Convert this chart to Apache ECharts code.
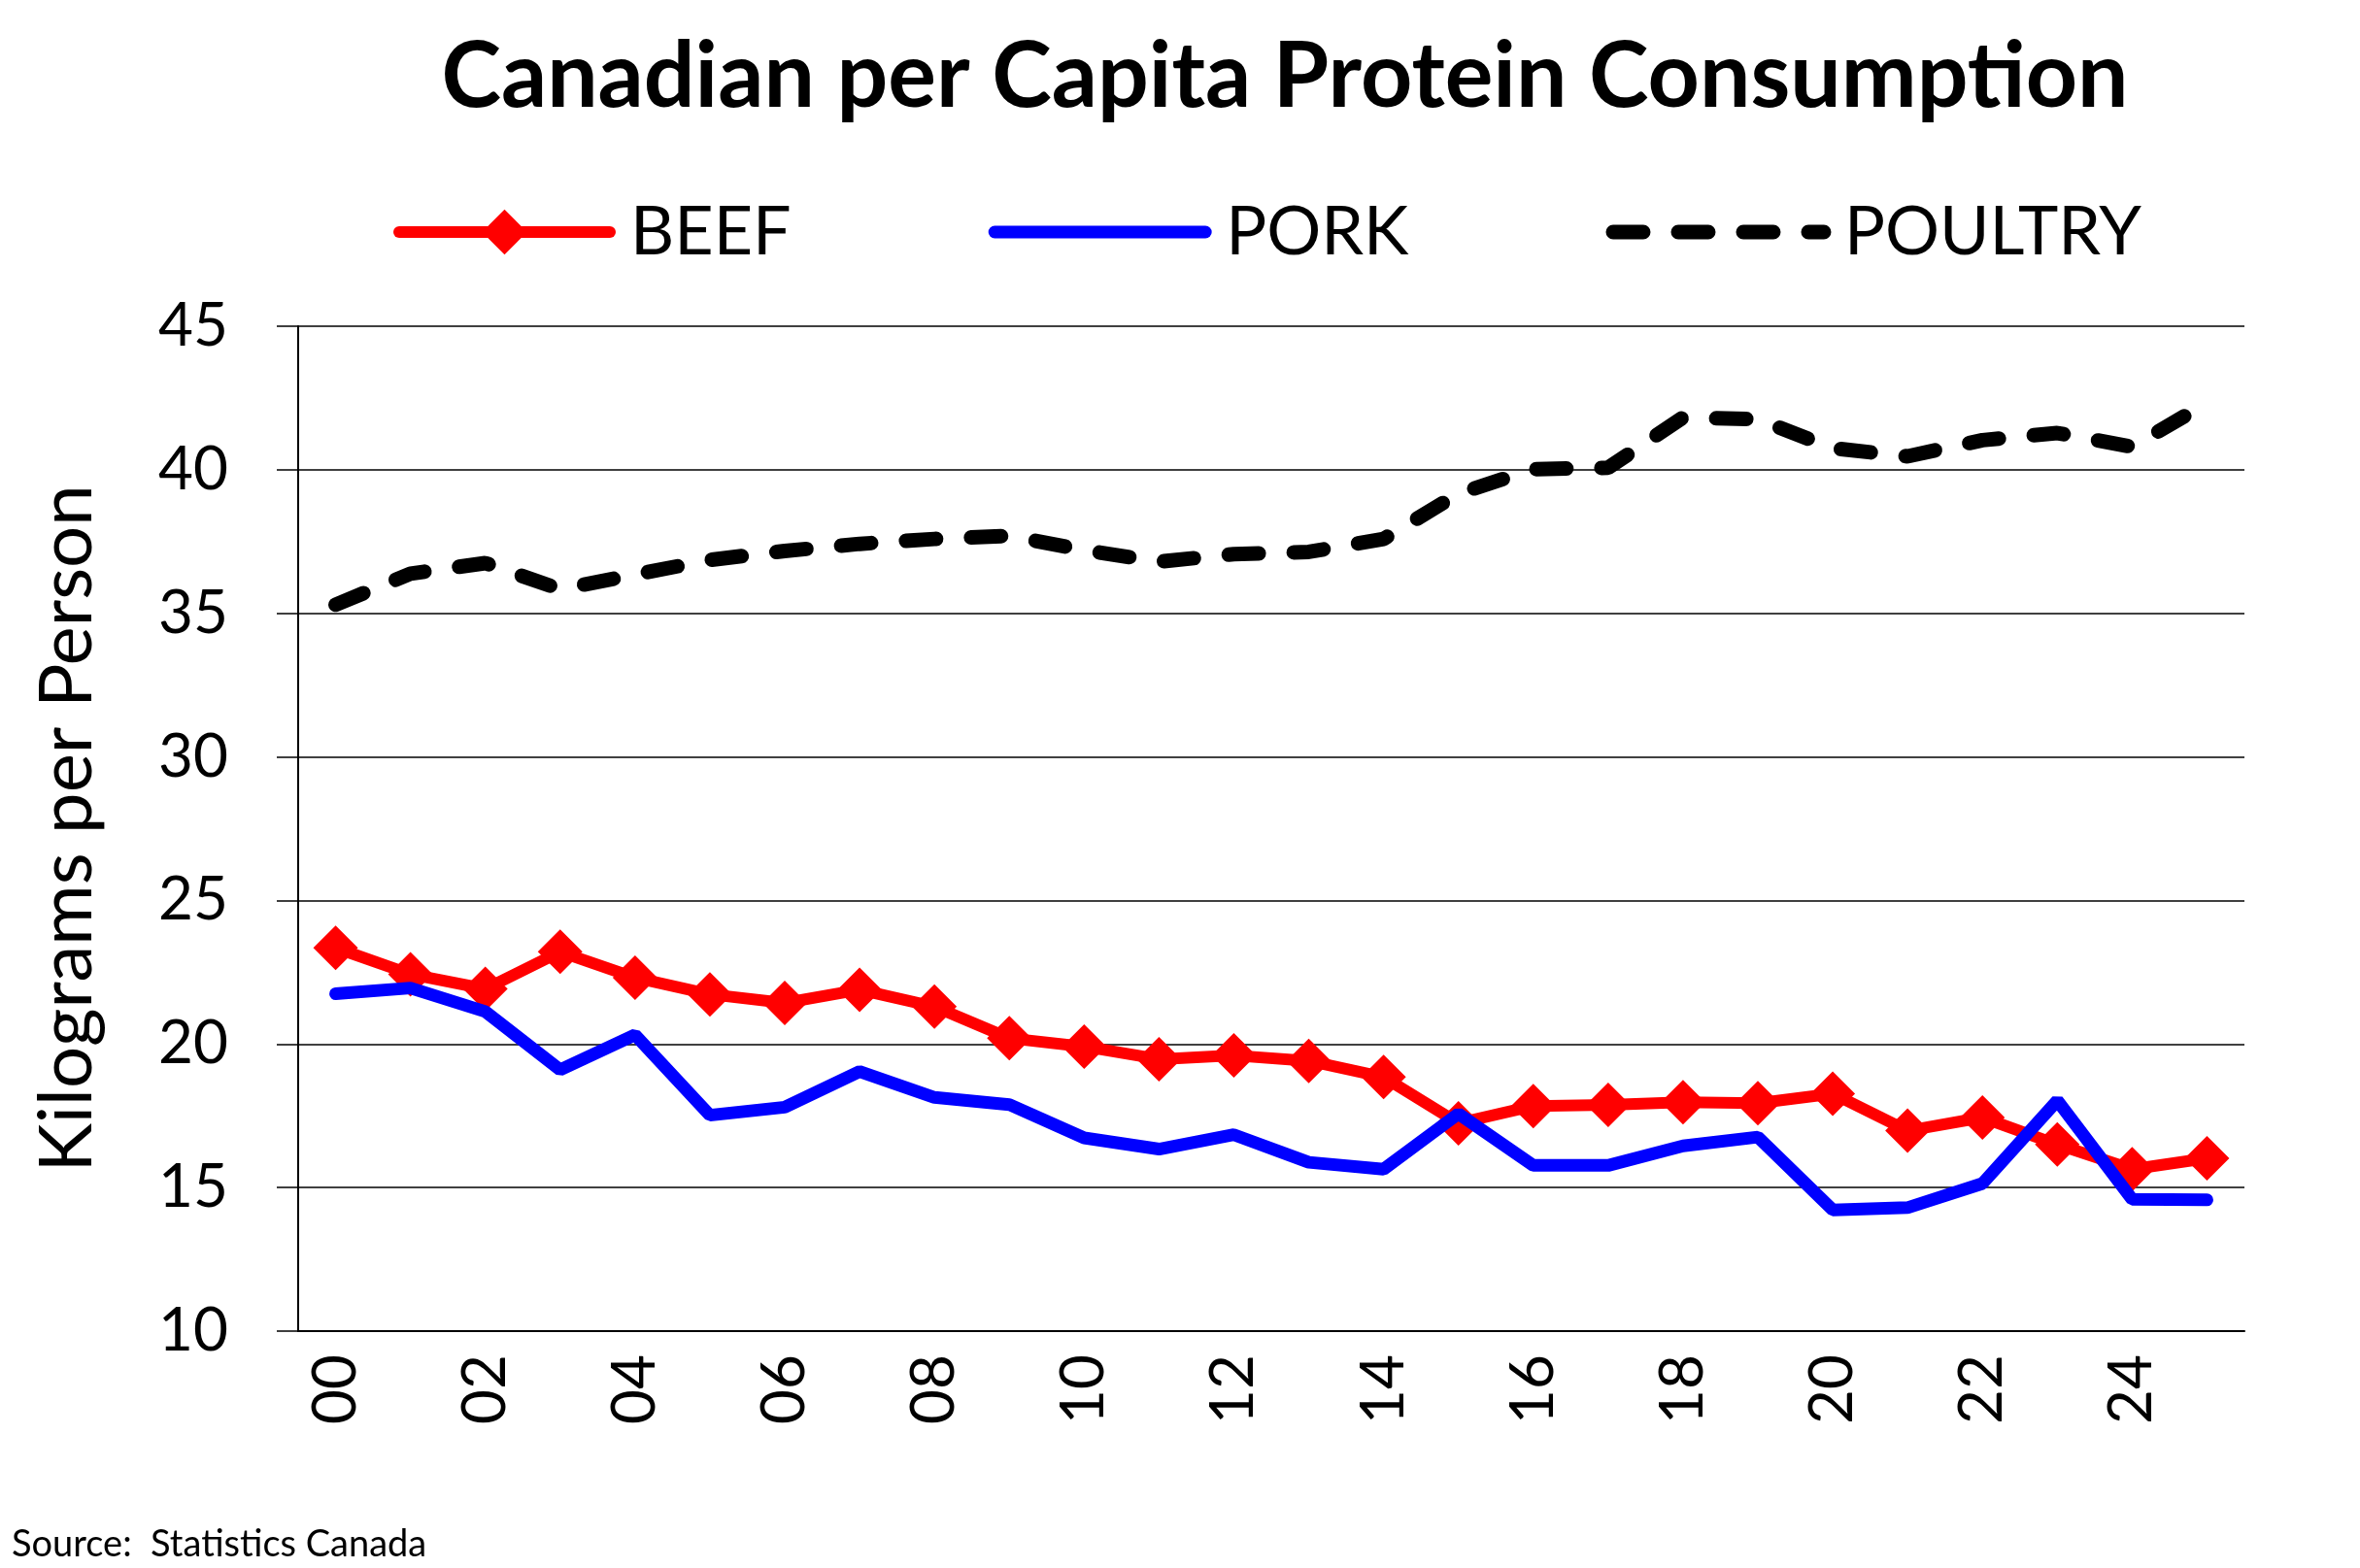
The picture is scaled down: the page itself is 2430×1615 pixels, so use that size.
<!DOCTYPE html>
<html>
<head>
<meta charset="utf-8">
<title>Canadian per Capita Protein Consumption</title>
<script src="https://cdn.jsdelivr.net/npm/echarts@6/dist/echarts.min.js"></script>
<style>
  html, body { margin: 0; padding: 0; background: #fff; }
  #chart { width: 2430px; height: 1615px; }
</style>
</head>
<body>
<div id="chart"></div>
<script>
// Values (kg per person, 2000–2025)
const years = ['00', '01', '02', '03', '04', '05', '06', '07', '08', '09', '10', '11', '12',
               '13', '14', '15', '16', '17', '18', '19', '20', '21', '22', '23', '24', '25'];

const beef = [23.35, 22.43, 21.92, 23.21, 22.31, 21.73, 21.43, 21.89, 21.30, 20.20, 19.91, 19.47, 19.60,
              19.41, 18.85, 17.24, 17.84, 17.88, 17.97, 17.94, 18.27, 16.98, 17.44, 16.50, 15.64, 16.02];

const pork = [21.75, 21.95, 21.13, 19.10, 20.32, 17.52, 17.80, 19.04, 18.14, 17.89, 16.73, 16.34, 16.84,
              15.88, 15.64, 17.57, 15.77, 15.77, 16.45, 16.76, 14.22, 14.30, 15.14, 18.03, 14.59, 14.57];

const poultry = [35.30, 36.38, 36.75, 35.84, 36.35, 36.86, 37.17, 37.42, 37.59, 37.70, 37.20, 36.80, 37.06,
                 37.14, 37.59, 39.17, 40.02, 40.07, 41.82, 41.76, 40.75, 40.47, 41.03, 41.28, 40.80, 42.33];

const FONT = 'Lato, "Noto Sans", sans-serif';

const chart = echarts.init(document.getElementById('chart'), null, { renderer: 'canvas' });

chart.setOption({
  animation: false,
  backgroundColor: '#fff',
  title: {
    text: 'Canadian per Capita Protein Consumption',
    left: 1318,
    textAlign: 'center',
    top: 28,
    textStyle: { fontFamily: FONT, fontWeight: 'bold', fontSize: 93, color: '#000' },
  },
  legend: {
    left: 400,
    top: 199,
    itemWidth: 217,
    itemHeight: 58,
    itemGap: 203,
    lineStyle: { width: 'inherit' },
    textStyle: { fontFamily: FONT, fontSize: 70, color: '#000', padding: [0, 0, 0, 16] },
    // pork and poultry show only the line, no marker
    data: [
      { name: 'BEEF' },
      { name: 'PORK', itemStyle: { opacity: 0 } },
      { name: 'POULTRY', itemStyle: { opacity: 0 } },
    ],
  },
  grid: { left: 307, right: 119, top: 336, bottom: 244 },
  xAxis: {
    type: 'category',
    data: years,
    boundaryGap: true,
    axisLine: { lineStyle: { color: '#000', width: 2 } },
    axisTick: { interval: 0, length: 22, lineStyle: { color: '#000', width: 2 } },
    axisLabel: {
      interval: 1, rotate: 90, margin: 24,
      fontFamily: FONT, fontSize: 62, color: '#000',
    },
    splitLine: { show: false },
  },
  yAxis: {
    type: 'value',
    min: 10, max: 45, interval: 5,
    name: 'Kilograms per Person',
    nameLocation: 'middle',
    nameRotate: 90,
    nameGap: 200,
    nameTextStyle: { fontFamily: FONT, fontSize: 76, color: '#000' },
    axisLine: { show: true, lineStyle: { color: '#000', width: 2 } },
    axisTick: { show: true, length: 22, lineStyle: { color: '#000', width: 1.5 } },
    axisLabel: { margin: 72, fontFamily: FONT, fontSize: 62, color: '#000' },
    splitLine: { lineStyle: { color: '#000', width: 1.5 } },
  },
  series: [
    {
      name: 'BEEF',
      type: 'line',
      data: beef,
      symbol: 'diamond',
      symbolSize: 46,
      showAllSymbol: true,
      itemStyle: { color: '#FF0000' },
      lineStyle: { color: '#FF0000', width: 12, cap: 'round' },
      z: 3,
    },
    {
      name: 'PORK',
      type: 'line',
      data: pork,
      symbol: 'none',
      itemStyle: { color: '#0000FF' },
      lineStyle: { color: '#0000FF', width: 13, cap: 'round' },
      z: 4,
    },
    {
      name: 'POULTRY',
      type: 'line',
      data: poultry,
      symbol: 'none',
      itemStyle: { color: '#000' },
      lineStyle: { color: '#000', width: 15, type: [31, 36], cap: 'round' },
      z: 3,
    },
  ],
  graphic: [
    {
      type: 'text',
      left: 12,
      top: 1572,
      style: { text: 'Source:  Statistics Canada', fontFamily: FONT, fontSize: 38, fill: '#000' },
    },
  ],
});
</script>
</body>
</html>
